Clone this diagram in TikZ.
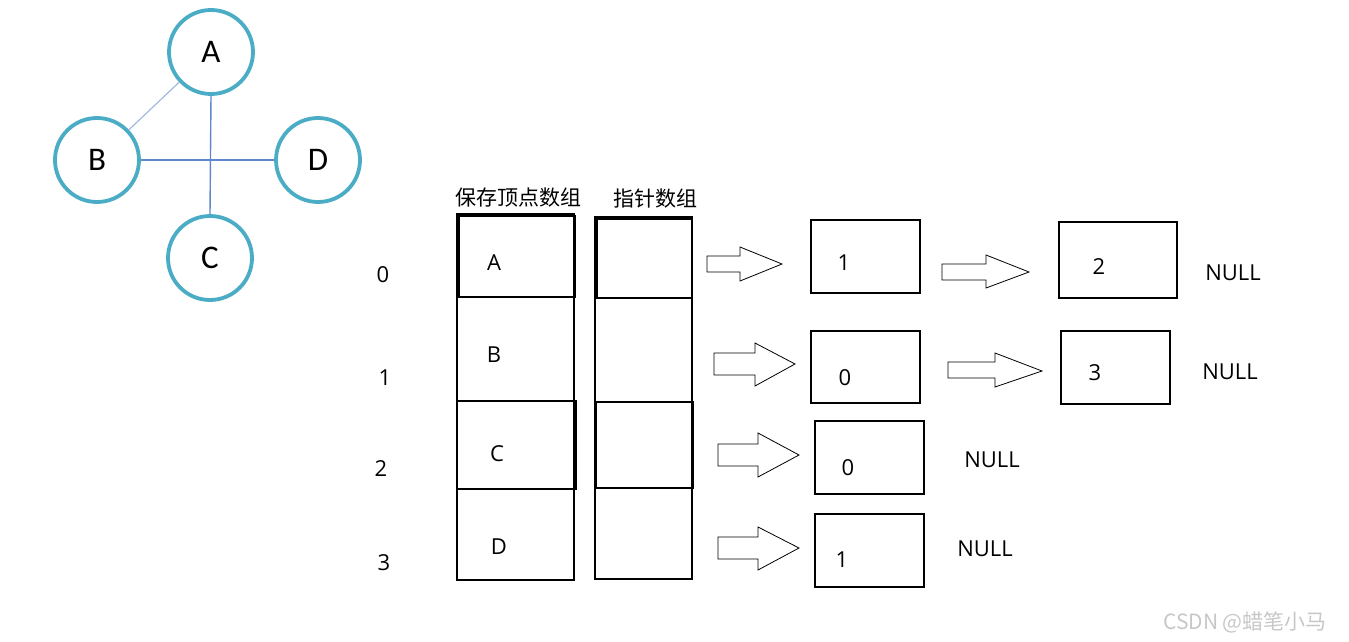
\documentclass[tikz,border=0pt]{standalone}
\usepackage{fontspec}
\setmainfont{Open Sans}
\newfontfamily\cjk{Noto Sans CJK SC}
\newfontfamily\calib{Carlito}
\definecolor{ringc}{RGB}{75,172,198}
\definecolor{edgec}{RGB}{95,135,205}
\definecolor{edgel}{RGB}{165,185,222}
\begin{document}
\begin{tikzpicture}[x=1pt,y=-1pt,
  vert/.style={circle,draw=ringc,line width=3.8pt,fill=white,minimum size=84pt,inner sep=0pt,font=\calib\fontsize{33}{33}\selectfont},
  cell/.style={draw,line width=1.1pt,inner sep=0pt},
  lbl/.style={font=\fontsize{22}{22}\selectfont,inner sep=0pt},
  barrow/.style={draw,line width=0.8pt,fill=white}]
\useasboundingbox (0,0) rectangle (1349,642);
% graph
\node[vert] (A) at (211,52) {A};
\node[vert] (B) at (97,160) {B};
\node[vert] (D) at (318,160) {D};
\node[vert] (C) at (210,258) {C};
\begin{scope}[on background layer/.try]
\end{scope}
\draw[edgel,line width=1.2pt] (A) -- (B);
\draw[edgec,line width=1.4pt] (A.south) -- (C.north);
\draw[edgec,line width=1.4pt] (B.east) -- (D.west);
% headers
\node[font=\cjk\fontsize{21}{21}\selectfont,inner sep=0pt] (h1) at (518,198) {保存顶点数组};
\node[font=\cjk\fontsize{21}{21}\selectfont,inner sep=0pt] (h2) at (655,199) {指针数组};
% index labels
\node[lbl] (i0) at (383,275) {0};
\node[lbl] (i1) at (385,378) {1};
\node[lbl] (i2) at (381,469) {2};
\node[lbl] (i3) at (384,563) {3};
% vertex array
\draw[line width=1.1pt] (457,214) rectangle (574,580);
\draw[line width=1.1pt] (459,216) rectangle (575,297);
\draw[line width=1.1pt] (457,401) rectangle (576,489);
\node[lbl] (va) at (494,263) {A};
\node[lbl] (vb) at (494,355) {B};
\node[lbl] (vc) at (497,454) {C};
\node[lbl] (vd) at (499,547) {D};
% pointer array
\draw[line width=1.1pt] (595,217) rectangle (692,579);
\draw[line width=1.1pt] (597,219) rectangle (692,298);
\draw[line width=1.1pt] (596,402) rectangle (693,488);
% list nodes
\draw[line width=1.1pt] (811,220) rectangle (920,293);
\node[lbl] (n01) at (844,263) {1};
\draw[line width=1.1pt] (1059,222) rectangle (1177,298);
\node[lbl] (n02) at (1099,267) {2};
\node[lbl] (null0) at (1233,273) {NULL};
\draw[line width=1.1pt] (811,331) rectangle (920,403);
\node[lbl] (n10) at (845,378) {0};
\draw[line width=1.1pt] (1061,331) rectangle (1170,404);
\node[lbl] (n13) at (1095,373) {3};
\node[lbl] (null1) at (1230,372) {NULL};
\draw[line width=1.1pt] (815,421) rectangle (924,494);
\node[lbl] (n20) at (848,468) {0};
\node[lbl] (null2) at (992,460) {NULL};
\draw[line width=1.1pt] (815,514) rectangle (924,587);
\node[lbl] (n31) at (842,560) {1};
\node[lbl] (null3) at (985,549) {NULL};
% block arrows
\newcommand{\blkarrow}[7]{% x1 x2 x3 yc shaft-top shaft-bottom head-top head-bottom
  \draw[barrow] (#1,#5) -- (#2,#5) -- (#2,#6) -- (#3,#4) -- (#2,#7) -- (#2,#7) -- cycle;}
\newcommand{\barr}[8]{%
  \draw[barrow] (#1,#5) -- (#2,#5) -- (#2,#7) -- (#3,#4) -- (#2,#8) -- (#2,#6) -- (#1,#6) -- cycle;}
\barr{707}{740}{782}{264}{256}{272}{247}{281}
\barr{942}{986}{1029}{272}{264}{280}{255}{288}
\barr{714}{755}{795}{364}{353}{375}{343}{386}
\barr{948}{995}{1042}{371}{362}{378}{353}{387}
\barr{718}{758}{799}{455}{444}{466}{433}{477}
\barr{718}{758}{799}{548}{537}{559}{527}{570}
% watermark
\node[font=\cjk\fontsize{21}{21}\selectfont,text=black!22,inner sep=0pt] (wm) at (1245,622) {CSDN @蜡笔小马};
\end{tikzpicture}
\end{document}
